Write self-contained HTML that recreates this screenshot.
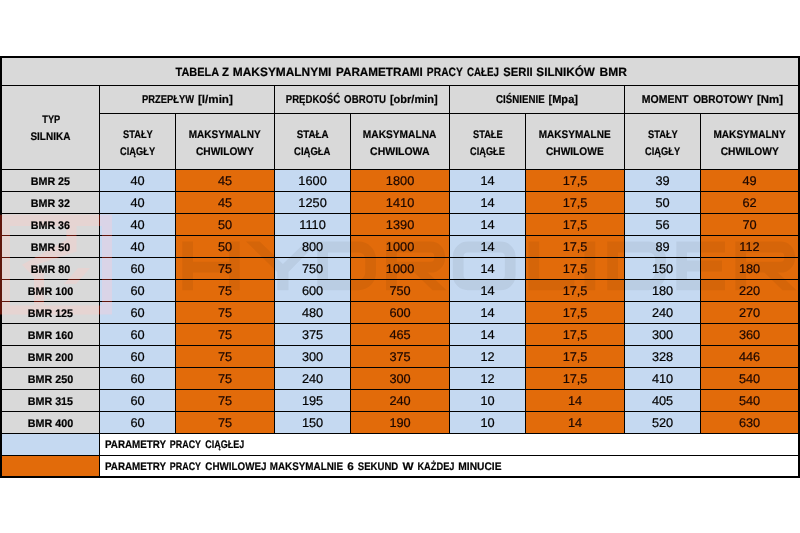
<!DOCTYPE html>
<html><head><meta charset="utf-8"><title>Tabela BMR</title>
<style>html,body{margin:0;padding:0;background:#fff;width:800px;height:533px;overflow:hidden}svg{display:block}</style></head>
<body>
<svg width="800" height="533" viewBox="0 0 800 533" font-family="'Liberation Sans', sans-serif" shape-rendering="crispEdges" text-rendering="geometricPrecision">
<rect x="0" y="0" width="800" height="533" fill="#fff"/>
<rect x="0" y="56" width="800" height="422" fill="#000"/>
<rect x="2" y="58" width="796" height="27" fill="#D9D9D9"/>
<rect x="2" y="86" width="97" height="83" fill="#D9D9D9"/>
<rect x="100" y="86" width="174" height="27" fill="#D9D9D9"/>
<rect x="275" y="86" width="174" height="27" fill="#D9D9D9"/>
<rect x="450" y="86" width="174" height="27" fill="#D9D9D9"/>
<rect x="625" y="86" width="173" height="27" fill="#D9D9D9"/>
<rect x="100" y="114" width="75" height="55" fill="#D9D9D9"/>
<rect x="176" y="114" width="98" height="55" fill="#D9D9D9"/>
<rect x="275" y="114" width="75" height="55" fill="#D9D9D9"/>
<rect x="351" y="114" width="98" height="55" fill="#D9D9D9"/>
<rect x="450" y="114" width="75" height="55" fill="#D9D9D9"/>
<rect x="526" y="114" width="98" height="55" fill="#D9D9D9"/>
<rect x="625" y="114" width="75" height="55" fill="#D9D9D9"/>
<rect x="701" y="114" width="97" height="55" fill="#D9D9D9"/>
<rect x="2" y="170" width="97" height="21" fill="#D9D9D9"/>
<rect x="100" y="170" width="75" height="21" fill="#C5D9F1"/>
<rect x="176" y="170" width="98" height="21" fill="#E26B0A"/>
<rect x="275" y="170" width="75" height="21" fill="#C5D9F1"/>
<rect x="351" y="170" width="98" height="21" fill="#E26B0A"/>
<rect x="450" y="170" width="75" height="21" fill="#C5D9F1"/>
<rect x="526" y="170" width="98" height="21" fill="#E26B0A"/>
<rect x="625" y="170" width="75" height="21" fill="#C5D9F1"/>
<rect x="701" y="170" width="97" height="21" fill="#E26B0A"/>
<rect x="2" y="192" width="97" height="21" fill="#D9D9D9"/>
<rect x="100" y="192" width="75" height="21" fill="#C5D9F1"/>
<rect x="176" y="192" width="98" height="21" fill="#E26B0A"/>
<rect x="275" y="192" width="75" height="21" fill="#C5D9F1"/>
<rect x="351" y="192" width="98" height="21" fill="#E26B0A"/>
<rect x="450" y="192" width="75" height="21" fill="#C5D9F1"/>
<rect x="526" y="192" width="98" height="21" fill="#E26B0A"/>
<rect x="625" y="192" width="75" height="21" fill="#C5D9F1"/>
<rect x="701" y="192" width="97" height="21" fill="#E26B0A"/>
<rect x="2" y="214" width="97" height="21" fill="#D9D9D9"/>
<rect x="100" y="214" width="75" height="21" fill="#C5D9F1"/>
<rect x="176" y="214" width="98" height="21" fill="#E26B0A"/>
<rect x="275" y="214" width="75" height="21" fill="#C5D9F1"/>
<rect x="351" y="214" width="98" height="21" fill="#E26B0A"/>
<rect x="450" y="214" width="75" height="21" fill="#C5D9F1"/>
<rect x="526" y="214" width="98" height="21" fill="#E26B0A"/>
<rect x="625" y="214" width="75" height="21" fill="#C5D9F1"/>
<rect x="701" y="214" width="97" height="21" fill="#E26B0A"/>
<rect x="2" y="236" width="97" height="21" fill="#D9D9D9"/>
<rect x="100" y="236" width="75" height="21" fill="#C5D9F1"/>
<rect x="176" y="236" width="98" height="21" fill="#E26B0A"/>
<rect x="275" y="236" width="75" height="21" fill="#C5D9F1"/>
<rect x="351" y="236" width="98" height="21" fill="#E26B0A"/>
<rect x="450" y="236" width="75" height="21" fill="#C5D9F1"/>
<rect x="526" y="236" width="98" height="21" fill="#E26B0A"/>
<rect x="625" y="236" width="75" height="21" fill="#C5D9F1"/>
<rect x="701" y="236" width="97" height="21" fill="#E26B0A"/>
<rect x="2" y="258" width="97" height="21" fill="#D9D9D9"/>
<rect x="100" y="258" width="75" height="21" fill="#C5D9F1"/>
<rect x="176" y="258" width="98" height="21" fill="#E26B0A"/>
<rect x="275" y="258" width="75" height="21" fill="#C5D9F1"/>
<rect x="351" y="258" width="98" height="21" fill="#E26B0A"/>
<rect x="450" y="258" width="75" height="21" fill="#C5D9F1"/>
<rect x="526" y="258" width="98" height="21" fill="#E26B0A"/>
<rect x="625" y="258" width="75" height="21" fill="#C5D9F1"/>
<rect x="701" y="258" width="97" height="21" fill="#E26B0A"/>
<rect x="2" y="280" width="97" height="21" fill="#D9D9D9"/>
<rect x="100" y="280" width="75" height="21" fill="#C5D9F1"/>
<rect x="176" y="280" width="98" height="21" fill="#E26B0A"/>
<rect x="275" y="280" width="75" height="21" fill="#C5D9F1"/>
<rect x="351" y="280" width="98" height="21" fill="#E26B0A"/>
<rect x="450" y="280" width="75" height="21" fill="#C5D9F1"/>
<rect x="526" y="280" width="98" height="21" fill="#E26B0A"/>
<rect x="625" y="280" width="75" height="21" fill="#C5D9F1"/>
<rect x="701" y="280" width="97" height="21" fill="#E26B0A"/>
<rect x="2" y="302" width="97" height="21" fill="#D9D9D9"/>
<rect x="100" y="302" width="75" height="21" fill="#C5D9F1"/>
<rect x="176" y="302" width="98" height="21" fill="#E26B0A"/>
<rect x="275" y="302" width="75" height="21" fill="#C5D9F1"/>
<rect x="351" y="302" width="98" height="21" fill="#E26B0A"/>
<rect x="450" y="302" width="75" height="21" fill="#C5D9F1"/>
<rect x="526" y="302" width="98" height="21" fill="#E26B0A"/>
<rect x="625" y="302" width="75" height="21" fill="#C5D9F1"/>
<rect x="701" y="302" width="97" height="21" fill="#E26B0A"/>
<rect x="2" y="324" width="97" height="21" fill="#D9D9D9"/>
<rect x="100" y="324" width="75" height="21" fill="#C5D9F1"/>
<rect x="176" y="324" width="98" height="21" fill="#E26B0A"/>
<rect x="275" y="324" width="75" height="21" fill="#C5D9F1"/>
<rect x="351" y="324" width="98" height="21" fill="#E26B0A"/>
<rect x="450" y="324" width="75" height="21" fill="#C5D9F1"/>
<rect x="526" y="324" width="98" height="21" fill="#E26B0A"/>
<rect x="625" y="324" width="75" height="21" fill="#C5D9F1"/>
<rect x="701" y="324" width="97" height="21" fill="#E26B0A"/>
<rect x="2" y="346" width="97" height="21" fill="#D9D9D9"/>
<rect x="100" y="346" width="75" height="21" fill="#C5D9F1"/>
<rect x="176" y="346" width="98" height="21" fill="#E26B0A"/>
<rect x="275" y="346" width="75" height="21" fill="#C5D9F1"/>
<rect x="351" y="346" width="98" height="21" fill="#E26B0A"/>
<rect x="450" y="346" width="75" height="21" fill="#C5D9F1"/>
<rect x="526" y="346" width="98" height="21" fill="#E26B0A"/>
<rect x="625" y="346" width="75" height="21" fill="#C5D9F1"/>
<rect x="701" y="346" width="97" height="21" fill="#E26B0A"/>
<rect x="2" y="368" width="97" height="21" fill="#D9D9D9"/>
<rect x="100" y="368" width="75" height="21" fill="#C5D9F1"/>
<rect x="176" y="368" width="98" height="21" fill="#E26B0A"/>
<rect x="275" y="368" width="75" height="21" fill="#C5D9F1"/>
<rect x="351" y="368" width="98" height="21" fill="#E26B0A"/>
<rect x="450" y="368" width="75" height="21" fill="#C5D9F1"/>
<rect x="526" y="368" width="98" height="21" fill="#E26B0A"/>
<rect x="625" y="368" width="75" height="21" fill="#C5D9F1"/>
<rect x="701" y="368" width="97" height="21" fill="#E26B0A"/>
<rect x="2" y="390" width="97" height="21" fill="#D9D9D9"/>
<rect x="100" y="390" width="75" height="21" fill="#C5D9F1"/>
<rect x="176" y="390" width="98" height="21" fill="#E26B0A"/>
<rect x="275" y="390" width="75" height="21" fill="#C5D9F1"/>
<rect x="351" y="390" width="98" height="21" fill="#E26B0A"/>
<rect x="450" y="390" width="75" height="21" fill="#C5D9F1"/>
<rect x="526" y="390" width="98" height="21" fill="#E26B0A"/>
<rect x="625" y="390" width="75" height="21" fill="#C5D9F1"/>
<rect x="701" y="390" width="97" height="21" fill="#E26B0A"/>
<rect x="2" y="412" width="97" height="21" fill="#D9D9D9"/>
<rect x="100" y="412" width="75" height="21" fill="#C5D9F1"/>
<rect x="176" y="412" width="98" height="21" fill="#E26B0A"/>
<rect x="275" y="412" width="75" height="21" fill="#C5D9F1"/>
<rect x="351" y="412" width="98" height="21" fill="#E26B0A"/>
<rect x="450" y="412" width="75" height="21" fill="#C5D9F1"/>
<rect x="526" y="412" width="98" height="21" fill="#E26B0A"/>
<rect x="625" y="412" width="75" height="21" fill="#C5D9F1"/>
<rect x="701" y="412" width="97" height="21" fill="#E26B0A"/>
<rect x="2" y="434" width="97" height="21" fill="#C5D9F1"/>
<rect x="100" y="434" width="698" height="21" fill="#fff"/>
<rect x="2" y="456" width="97" height="20" fill="#E26B0A"/>
<rect x="100" y="456" width="698" height="20" fill="#fff"/>
<g opacity="0.052" shape-rendering="geometricPrecision">
<path d="M187.65,241.6 V290.2 M234.35,241.6 V290.2 M187.65,267.2 H234.35 M322.65,247.0 H358.6 A12,12 0 0 1 370.6,259.0 V272.8 A12,12 0 0 1 358.6,284.8 H322.65 Z M612.6,247.0 H648.6 A12,12 0 0 1 660.6,259.0 V272.8 A12,12 0 0 1 648.6,284.8 H612.6 Z M391.4,290.2 V247.0 H430.6 A9,9 0 0 1 439.6,256.0 V258.2 A9,9 0 0 1 430.6,267.2 H391.4 M740.6999999999999,290.2 V247.0 H780.6 A9,9 0 0 1 789.6,256.0 V258.2 A9,9 0 0 1 780.6,267.2 H740.6999999999999 M467.7,247.0 H500.7 A9.5,9.5 0 0 1 510.2,256.5 V275.3 A9.5,9.5 0 0 1 500.7,284.8 H467.7 A9.5,9.5 0 0 1 458.2,275.3 V256.5 A9.5,9.5 0 0 1 467.7,247.0 Z M533.8,241.6 V284.8 H574.4 M589.85,241.6 V290.2 M725,247.0 H681.65 V284.8 H725 M681.65,266 H722" fill="none" stroke="#000" stroke-width="10.8" stroke-linejoin="miter"/>
<polygon points="246,241.6 259.75,241.6 282.9,264 306,241.6 318.5,241.6 288.5,272 288.5,290.2 277.25,290.2 277.25,272" fill="#000"/>
<polygon points="413,271.2 426.5,271.2 446.5,290.2 432.5,290.2" fill="#000"/>
<polygon points="763,271.2 776.5,271.2 796.5,290.2 782.5,290.2" fill="#000"/>
</g>
<g opacity="0.042" fill="#e0201a" shape-rendering="geometricPrecision"><path fill-rule="evenodd" d="M0,214.75 H112 V314.5 H0 Z M10,226 V305.5 H102 V226 Z"/><polygon points="66.4,226 76.5,226 76.5,251.5 36,264.8 44,273 44,305.5 34,305.5 34,277 22,264.8 66.4,240"/><polygon points="78,268 90,268 76,284 64,284"/></g>
<g style="mix-blend-mode:screen" fill="#59140a" shape-rendering="geometricPrecision"><path fill-rule="evenodd" d="M0,214.75 H112 V314.5 H0 Z M10,226 V305.5 H102 V226 Z"/><polygon points="66.4,226 76.5,226 76.5,251.5 36,264.8 44,273 44,305.5 34,305.5 34,277 22,264.8 66.4,240"/><polygon points="78,268 90,268 76,284 64,284"/></g>
<g opacity="0.999">
<text transform="translate(175.60,75.60) scale(0.9060,1)" font-size="12.09" font-weight="bold" fill="#000" stroke="#000" stroke-width="0.2">TABELA</text>
<text transform="translate(222.12,75.60) scale(0.9442,1)" font-size="12.09" font-weight="bold" fill="#000" stroke="#000" stroke-width="0.2">Z</text>
<text transform="translate(232.86,75.60) scale(0.9852,1)" font-size="12.09" font-weight="bold" fill="#000" stroke="#000" stroke-width="0.2">MAKSYMALNYMI</text>
<text transform="translate(336.02,75.60) scale(0.9682,1)" font-size="12.09" font-weight="bold" fill="#000" stroke="#000" stroke-width="0.2">PARAMETRAMI</text>
<text transform="translate(426.86,75.60) scale(0.8506,1)" font-size="12.09" font-weight="bold" fill="#000" stroke="#000" stroke-width="0.2">PRACY</text>
<text transform="translate(466.94,75.60) scale(0.8074,1)" font-size="12.09" font-weight="bold" fill="#000" stroke="#000" stroke-width="0.2">CAŁEJ</text>
<text transform="translate(503.32,75.60) scale(0.9291,1)" font-size="12.09" font-weight="bold" fill="#000" stroke="#000" stroke-width="0.2">SERII</text>
<text transform="translate(536.32,75.60) scale(0.9690,1)" font-size="12.09" font-weight="bold" fill="#000" stroke="#000" stroke-width="0.2">SILNIKÓW</text>
<text transform="translate(599.50,75.60) scale(0.9925,1)" font-size="12.09" font-weight="bold" fill="#000" stroke="#000" stroke-width="0.2">BMR</text>
<text transform="translate(141.91,102.90) scale(0.8241,1)" font-size="11.38" font-weight="bold" fill="#000" stroke="#000" stroke-width="0.2">PRZEPŁYW</text>
<text transform="translate(197.95,102.90) scale(1.0224,1)" font-size="11.38" font-weight="bold" fill="#000" stroke="#000" stroke-width="0.2">[l/min]</text>
<text transform="translate(285.80,102.90) scale(0.8432,1)" font-size="11.38" font-weight="bold" fill="#000" stroke="#000" stroke-width="0.2">PRĘDKOŚĆ</text>
<text transform="translate(344.10,102.90) scale(0.8516,1)" font-size="11.38" font-weight="bold" fill="#000" stroke="#000" stroke-width="0.2">OBROTU</text>
<text transform="translate(389.88,102.90) scale(0.9713,1)" font-size="11.38" font-weight="bold" fill="#000" stroke="#000" stroke-width="0.2">[obr/min]</text>
<text transform="translate(496.10,102.90) scale(0.8533,1)" font-size="11.38" font-weight="bold" fill="#000" stroke="#000" stroke-width="0.2">CIŚNIENIE</text>
<text transform="translate(548.48,102.90) scale(0.9721,1)" font-size="11.38" font-weight="bold" fill="#000" stroke="#000" stroke-width="0.2">[Mpa]</text>
<text transform="translate(641.74,102.90) scale(0.9229,1)" font-size="11.38" font-weight="bold" fill="#000" stroke="#000" stroke-width="0.2">MOMENT</text>
<text transform="translate(693.29,102.90) scale(0.8788,1)" font-size="11.38" font-weight="bold" fill="#000" stroke="#000" stroke-width="0.2">OBROTOWY</text>
<text transform="translate(757.06,102.90) scale(1.0043,1)" font-size="11.38" font-weight="bold" fill="#000" stroke="#000" stroke-width="0.2">[Nm]</text>
<text transform="translate(42.25,122.80) scale(0.8447,1)" font-size="10.95" font-weight="bold" fill="#000" stroke="#000" stroke-width="0.2">TYP</text>
<text transform="translate(30.44,139.90) scale(0.9129,1)" font-size="10.95" font-weight="bold" fill="#000" stroke="#000" stroke-width="0.2">SILNIKA</text>
<text transform="translate(122.95,137.90) scale(0.8520,1)" font-size="10.95" font-weight="bold" fill="#000" stroke="#000" stroke-width="0.2">STAŁY</text>
<text transform="translate(120.11,154.90) scale(0.8456,1)" font-size="10.95" font-weight="bold" fill="#000" stroke="#000" stroke-width="0.2">CIĄGŁY</text>
<text transform="translate(188.77,137.90) scale(0.9164,1)" font-size="10.95" font-weight="bold" fill="#000" stroke="#000" stroke-width="0.2">MAKSYMALNY</text>
<text transform="translate(195.93,154.90) scale(0.9335,1)" font-size="10.95" font-weight="bold" fill="#000" stroke="#000" stroke-width="0.2">CHWILOWY</text>
<text transform="translate(296.75,137.90) scale(0.8920,1)" font-size="10.95" font-weight="bold" fill="#000" stroke="#000" stroke-width="0.2">STAŁA</text>
<text transform="translate(294.10,154.90) scale(0.8653,1)" font-size="10.95" font-weight="bold" fill="#000" stroke="#000" stroke-width="0.2">CIĄGŁA</text>
<text transform="translate(362.86,137.90) scale(0.9302,1)" font-size="10.95" font-weight="bold" fill="#000" stroke="#000" stroke-width="0.2">MAKSYMALNA</text>
<text transform="translate(370.07,154.90) scale(0.9593,1)" font-size="10.95" font-weight="bold" fill="#000" stroke="#000" stroke-width="0.2">CHWILOWA</text>
<text transform="translate(472.95,137.90) scale(0.8490,1)" font-size="10.95" font-weight="bold" fill="#000" stroke="#000" stroke-width="0.2">STAŁE</text>
<text transform="translate(470.11,154.90) scale(0.8393,1)" font-size="10.95" font-weight="bold" fill="#000" stroke="#000" stroke-width="0.2">CIĄGŁE</text>
<text transform="translate(538.77,137.90) scale(0.9159,1)" font-size="10.95" font-weight="bold" fill="#000" stroke="#000" stroke-width="0.2">MAKSYMALNE</text>
<text transform="translate(545.93,154.90) scale(0.9320,1)" font-size="10.95" font-weight="bold" fill="#000" stroke="#000" stroke-width="0.2">CHWILOWE</text>
<text transform="translate(647.95,137.90) scale(0.8520,1)" font-size="10.95" font-weight="bold" fill="#000" stroke="#000" stroke-width="0.2">STAŁY</text>
<text transform="translate(645.11,154.90) scale(0.8456,1)" font-size="10.95" font-weight="bold" fill="#000" stroke="#000" stroke-width="0.2">CIĄGŁY</text>
<text transform="translate(713.47,137.90) scale(0.9203,1)" font-size="10.95" font-weight="bold" fill="#000" stroke="#000" stroke-width="0.2">MAKSYMALNY</text>
<text transform="translate(720.68,154.90) scale(0.9376,1)" font-size="10.95" font-weight="bold" fill="#000" stroke="#000" stroke-width="0.2">CHWILOWY</text>
<text transform="translate(30.68,184.80) scale(0.9818,1)" font-size="10.95" font-weight="bold" fill="#000" stroke="#000" stroke-width="0.2">BMR 25</text>
<text transform="translate(130.45,185.00) scale(1.0084,1)" font-size="12.66" font-weight="normal" fill="#000" stroke="#000" stroke-width="0.22">40</text>
<text transform="translate(217.95,185.00) scale(1.0084,1)" font-size="12.66" font-weight="normal" fill="#1c0800" stroke="#1c0800" stroke-width="0.22">45</text>
<text transform="translate(298.35,185.00) scale(1.0084,1)" font-size="12.66" font-weight="normal" fill="#000" stroke="#000" stroke-width="0.22">1600</text>
<text transform="translate(385.85,185.00) scale(1.0084,1)" font-size="12.66" font-weight="normal" fill="#1c0800" stroke="#1c0800" stroke-width="0.22">1800</text>
<text transform="translate(480.45,185.00) scale(1.0084,1)" font-size="12.66" font-weight="normal" fill="#000" stroke="#000" stroke-width="0.22">14</text>
<text transform="translate(562.63,185.00) scale(1.0084,1)" font-size="12.66" font-weight="normal" fill="#1c0800" stroke="#1c0800" stroke-width="0.22">17,5</text>
<text transform="translate(655.45,185.00) scale(1.0084,1)" font-size="12.66" font-weight="normal" fill="#000" stroke="#000" stroke-width="0.22">39</text>
<text transform="translate(742.45,185.00) scale(1.0084,1)" font-size="12.66" font-weight="normal" fill="#1c0800" stroke="#1c0800" stroke-width="0.22">49</text>
<text transform="translate(30.68,206.80) scale(0.9818,1)" font-size="10.95" font-weight="bold" fill="#000" stroke="#000" stroke-width="0.2">BMR 32</text>
<text transform="translate(130.45,207.00) scale(1.0084,1)" font-size="12.66" font-weight="normal" fill="#000" stroke="#000" stroke-width="0.22">40</text>
<text transform="translate(217.95,207.00) scale(1.0084,1)" font-size="12.66" font-weight="normal" fill="#1c0800" stroke="#1c0800" stroke-width="0.22">45</text>
<text transform="translate(298.35,207.00) scale(1.0084,1)" font-size="12.66" font-weight="normal" fill="#000" stroke="#000" stroke-width="0.22">1250</text>
<text transform="translate(385.85,207.00) scale(1.0084,1)" font-size="12.66" font-weight="normal" fill="#1c0800" stroke="#1c0800" stroke-width="0.22">1410</text>
<text transform="translate(480.45,207.00) scale(1.0084,1)" font-size="12.66" font-weight="normal" fill="#000" stroke="#000" stroke-width="0.22">14</text>
<text transform="translate(562.63,207.00) scale(1.0084,1)" font-size="12.66" font-weight="normal" fill="#1c0800" stroke="#1c0800" stroke-width="0.22">17,5</text>
<text transform="translate(655.45,207.00) scale(1.0084,1)" font-size="12.66" font-weight="normal" fill="#000" stroke="#000" stroke-width="0.22">50</text>
<text transform="translate(742.45,207.00) scale(1.0084,1)" font-size="12.66" font-weight="normal" fill="#1c0800" stroke="#1c0800" stroke-width="0.22">62</text>
<text transform="translate(30.68,228.80) scale(0.9818,1)" font-size="10.95" font-weight="bold" fill="#000" stroke="#000" stroke-width="0.2">BMR 36</text>
<text transform="translate(130.45,229.00) scale(1.0084,1)" font-size="12.66" font-weight="normal" fill="#000" stroke="#000" stroke-width="0.22">40</text>
<text transform="translate(217.95,229.00) scale(1.0084,1)" font-size="12.66" font-weight="normal" fill="#1c0800" stroke="#1c0800" stroke-width="0.22">50</text>
<text transform="translate(299.30,229.00) scale(1.0084,1)" font-size="12.66" font-weight="normal" fill="#000" stroke="#000" stroke-width="0.22">1110</text>
<text transform="translate(385.85,229.00) scale(1.0084,1)" font-size="12.66" font-weight="normal" fill="#1c0800" stroke="#1c0800" stroke-width="0.22">1390</text>
<text transform="translate(480.45,229.00) scale(1.0084,1)" font-size="12.66" font-weight="normal" fill="#000" stroke="#000" stroke-width="0.22">14</text>
<text transform="translate(562.63,229.00) scale(1.0084,1)" font-size="12.66" font-weight="normal" fill="#1c0800" stroke="#1c0800" stroke-width="0.22">17,5</text>
<text transform="translate(655.45,229.00) scale(1.0084,1)" font-size="12.66" font-weight="normal" fill="#000" stroke="#000" stroke-width="0.22">56</text>
<text transform="translate(742.45,229.00) scale(1.0084,1)" font-size="12.66" font-weight="normal" fill="#1c0800" stroke="#1c0800" stroke-width="0.22">70</text>
<text transform="translate(30.76,250.80) scale(0.9818,1)" font-size="10.95" font-weight="bold" fill="#000" stroke="#000" stroke-width="0.2">BMR 50</text>
<text transform="translate(130.45,251.00) scale(1.0084,1)" font-size="12.66" font-weight="normal" fill="#000" stroke="#000" stroke-width="0.22">40</text>
<text transform="translate(217.95,251.00) scale(1.0084,1)" font-size="12.66" font-weight="normal" fill="#1c0800" stroke="#1c0800" stroke-width="0.22">50</text>
<text transform="translate(301.90,251.00) scale(1.0084,1)" font-size="12.66" font-weight="normal" fill="#000" stroke="#000" stroke-width="0.22">800</text>
<text transform="translate(385.85,251.00) scale(1.0084,1)" font-size="12.66" font-weight="normal" fill="#1c0800" stroke="#1c0800" stroke-width="0.22">1000</text>
<text transform="translate(480.45,251.00) scale(1.0084,1)" font-size="12.66" font-weight="normal" fill="#000" stroke="#000" stroke-width="0.22">14</text>
<text transform="translate(562.63,251.00) scale(1.0084,1)" font-size="12.66" font-weight="normal" fill="#1c0800" stroke="#1c0800" stroke-width="0.22">17,5</text>
<text transform="translate(655.45,251.00) scale(1.0084,1)" font-size="12.66" font-weight="normal" fill="#000" stroke="#000" stroke-width="0.22">89</text>
<text transform="translate(739.37,251.00) scale(1.0084,1)" font-size="12.66" font-weight="normal" fill="#1c0800" stroke="#1c0800" stroke-width="0.22">112</text>
<text transform="translate(30.76,272.80) scale(0.9818,1)" font-size="10.95" font-weight="bold" fill="#000" stroke="#000" stroke-width="0.2">BMR 80</text>
<text transform="translate(130.45,273.00) scale(1.0084,1)" font-size="12.66" font-weight="normal" fill="#000" stroke="#000" stroke-width="0.22">60</text>
<text transform="translate(217.95,273.00) scale(1.0084,1)" font-size="12.66" font-weight="normal" fill="#1c0800" stroke="#1c0800" stroke-width="0.22">75</text>
<text transform="translate(301.90,273.00) scale(1.0084,1)" font-size="12.66" font-weight="normal" fill="#000" stroke="#000" stroke-width="0.22">750</text>
<text transform="translate(385.85,273.00) scale(1.0084,1)" font-size="12.66" font-weight="normal" fill="#1c0800" stroke="#1c0800" stroke-width="0.22">1000</text>
<text transform="translate(480.45,273.00) scale(1.0084,1)" font-size="12.66" font-weight="normal" fill="#000" stroke="#000" stroke-width="0.22">14</text>
<text transform="translate(562.63,273.00) scale(1.0084,1)" font-size="12.66" font-weight="normal" fill="#1c0800" stroke="#1c0800" stroke-width="0.22">17,5</text>
<text transform="translate(651.90,273.00) scale(1.0084,1)" font-size="12.66" font-weight="normal" fill="#000" stroke="#000" stroke-width="0.22">150</text>
<text transform="translate(738.90,273.00) scale(1.0084,1)" font-size="12.66" font-weight="normal" fill="#1c0800" stroke="#1c0800" stroke-width="0.22">180</text>
<text transform="translate(27.77,294.80) scale(0.9818,1)" font-size="10.95" font-weight="bold" fill="#000" stroke="#000" stroke-width="0.2">BMR 100</text>
<text transform="translate(130.45,295.00) scale(1.0084,1)" font-size="12.66" font-weight="normal" fill="#000" stroke="#000" stroke-width="0.22">60</text>
<text transform="translate(217.95,295.00) scale(1.0084,1)" font-size="12.66" font-weight="normal" fill="#1c0800" stroke="#1c0800" stroke-width="0.22">75</text>
<text transform="translate(301.90,295.00) scale(1.0084,1)" font-size="12.66" font-weight="normal" fill="#000" stroke="#000" stroke-width="0.22">600</text>
<text transform="translate(389.40,295.00) scale(1.0084,1)" font-size="12.66" font-weight="normal" fill="#1c0800" stroke="#1c0800" stroke-width="0.22">750</text>
<text transform="translate(480.45,295.00) scale(1.0084,1)" font-size="12.66" font-weight="normal" fill="#000" stroke="#000" stroke-width="0.22">14</text>
<text transform="translate(562.63,295.00) scale(1.0084,1)" font-size="12.66" font-weight="normal" fill="#1c0800" stroke="#1c0800" stroke-width="0.22">17,5</text>
<text transform="translate(651.90,295.00) scale(1.0084,1)" font-size="12.66" font-weight="normal" fill="#000" stroke="#000" stroke-width="0.22">180</text>
<text transform="translate(738.90,295.00) scale(1.0084,1)" font-size="12.66" font-weight="normal" fill="#1c0800" stroke="#1c0800" stroke-width="0.22">220</text>
<text transform="translate(27.69,316.80) scale(0.9818,1)" font-size="10.95" font-weight="bold" fill="#000" stroke="#000" stroke-width="0.2">BMR 125</text>
<text transform="translate(130.45,317.00) scale(1.0084,1)" font-size="12.66" font-weight="normal" fill="#000" stroke="#000" stroke-width="0.22">60</text>
<text transform="translate(217.95,317.00) scale(1.0084,1)" font-size="12.66" font-weight="normal" fill="#1c0800" stroke="#1c0800" stroke-width="0.22">75</text>
<text transform="translate(301.90,317.00) scale(1.0084,1)" font-size="12.66" font-weight="normal" fill="#000" stroke="#000" stroke-width="0.22">480</text>
<text transform="translate(389.40,317.00) scale(1.0084,1)" font-size="12.66" font-weight="normal" fill="#1c0800" stroke="#1c0800" stroke-width="0.22">600</text>
<text transform="translate(480.45,317.00) scale(1.0084,1)" font-size="12.66" font-weight="normal" fill="#000" stroke="#000" stroke-width="0.22">14</text>
<text transform="translate(562.63,317.00) scale(1.0084,1)" font-size="12.66" font-weight="normal" fill="#1c0800" stroke="#1c0800" stroke-width="0.22">17,5</text>
<text transform="translate(651.90,317.00) scale(1.0084,1)" font-size="12.66" font-weight="normal" fill="#000" stroke="#000" stroke-width="0.22">240</text>
<text transform="translate(738.90,317.00) scale(1.0084,1)" font-size="12.66" font-weight="normal" fill="#1c0800" stroke="#1c0800" stroke-width="0.22">270</text>
<text transform="translate(27.77,338.80) scale(0.9818,1)" font-size="10.95" font-weight="bold" fill="#000" stroke="#000" stroke-width="0.2">BMR 160</text>
<text transform="translate(130.45,339.00) scale(1.0084,1)" font-size="12.66" font-weight="normal" fill="#000" stroke="#000" stroke-width="0.22">60</text>
<text transform="translate(217.95,339.00) scale(1.0084,1)" font-size="12.66" font-weight="normal" fill="#1c0800" stroke="#1c0800" stroke-width="0.22">75</text>
<text transform="translate(301.90,339.00) scale(1.0084,1)" font-size="12.66" font-weight="normal" fill="#000" stroke="#000" stroke-width="0.22">375</text>
<text transform="translate(389.40,339.00) scale(1.0084,1)" font-size="12.66" font-weight="normal" fill="#1c0800" stroke="#1c0800" stroke-width="0.22">465</text>
<text transform="translate(480.45,339.00) scale(1.0084,1)" font-size="12.66" font-weight="normal" fill="#000" stroke="#000" stroke-width="0.22">14</text>
<text transform="translate(562.63,339.00) scale(1.0084,1)" font-size="12.66" font-weight="normal" fill="#1c0800" stroke="#1c0800" stroke-width="0.22">17,5</text>
<text transform="translate(651.90,339.00) scale(1.0084,1)" font-size="12.66" font-weight="normal" fill="#000" stroke="#000" stroke-width="0.22">300</text>
<text transform="translate(738.90,339.00) scale(1.0084,1)" font-size="12.66" font-weight="normal" fill="#1c0800" stroke="#1c0800" stroke-width="0.22">360</text>
<text transform="translate(27.77,360.80) scale(0.9818,1)" font-size="10.95" font-weight="bold" fill="#000" stroke="#000" stroke-width="0.2">BMR 200</text>
<text transform="translate(130.45,361.00) scale(1.0084,1)" font-size="12.66" font-weight="normal" fill="#000" stroke="#000" stroke-width="0.22">60</text>
<text transform="translate(217.95,361.00) scale(1.0084,1)" font-size="12.66" font-weight="normal" fill="#1c0800" stroke="#1c0800" stroke-width="0.22">75</text>
<text transform="translate(301.90,361.00) scale(1.0084,1)" font-size="12.66" font-weight="normal" fill="#000" stroke="#000" stroke-width="0.22">300</text>
<text transform="translate(389.40,361.00) scale(1.0084,1)" font-size="12.66" font-weight="normal" fill="#1c0800" stroke="#1c0800" stroke-width="0.22">375</text>
<text transform="translate(480.45,361.00) scale(1.0084,1)" font-size="12.66" font-weight="normal" fill="#000" stroke="#000" stroke-width="0.22">12</text>
<text transform="translate(562.63,361.00) scale(1.0084,1)" font-size="12.66" font-weight="normal" fill="#1c0800" stroke="#1c0800" stroke-width="0.22">17,5</text>
<text transform="translate(651.90,361.00) scale(1.0084,1)" font-size="12.66" font-weight="normal" fill="#000" stroke="#000" stroke-width="0.22">328</text>
<text transform="translate(738.90,361.00) scale(1.0084,1)" font-size="12.66" font-weight="normal" fill="#1c0800" stroke="#1c0800" stroke-width="0.22">446</text>
<text transform="translate(27.77,382.80) scale(0.9818,1)" font-size="10.95" font-weight="bold" fill="#000" stroke="#000" stroke-width="0.2">BMR 250</text>
<text transform="translate(130.45,383.00) scale(1.0084,1)" font-size="12.66" font-weight="normal" fill="#000" stroke="#000" stroke-width="0.22">60</text>
<text transform="translate(217.95,383.00) scale(1.0084,1)" font-size="12.66" font-weight="normal" fill="#1c0800" stroke="#1c0800" stroke-width="0.22">75</text>
<text transform="translate(301.90,383.00) scale(1.0084,1)" font-size="12.66" font-weight="normal" fill="#000" stroke="#000" stroke-width="0.22">240</text>
<text transform="translate(389.40,383.00) scale(1.0084,1)" font-size="12.66" font-weight="normal" fill="#1c0800" stroke="#1c0800" stroke-width="0.22">300</text>
<text transform="translate(480.45,383.00) scale(1.0084,1)" font-size="12.66" font-weight="normal" fill="#000" stroke="#000" stroke-width="0.22">12</text>
<text transform="translate(562.63,383.00) scale(1.0084,1)" font-size="12.66" font-weight="normal" fill="#1c0800" stroke="#1c0800" stroke-width="0.22">17,5</text>
<text transform="translate(651.90,383.00) scale(1.0084,1)" font-size="12.66" font-weight="normal" fill="#000" stroke="#000" stroke-width="0.22">410</text>
<text transform="translate(738.90,383.00) scale(1.0084,1)" font-size="12.66" font-weight="normal" fill="#1c0800" stroke="#1c0800" stroke-width="0.22">540</text>
<text transform="translate(27.69,404.80) scale(0.9818,1)" font-size="10.95" font-weight="bold" fill="#000" stroke="#000" stroke-width="0.2">BMR 315</text>
<text transform="translate(130.45,405.00) scale(1.0084,1)" font-size="12.66" font-weight="normal" fill="#000" stroke="#000" stroke-width="0.22">60</text>
<text transform="translate(217.95,405.00) scale(1.0084,1)" font-size="12.66" font-weight="normal" fill="#1c0800" stroke="#1c0800" stroke-width="0.22">75</text>
<text transform="translate(301.90,405.00) scale(1.0084,1)" font-size="12.66" font-weight="normal" fill="#000" stroke="#000" stroke-width="0.22">195</text>
<text transform="translate(389.40,405.00) scale(1.0084,1)" font-size="12.66" font-weight="normal" fill="#1c0800" stroke="#1c0800" stroke-width="0.22">240</text>
<text transform="translate(480.45,405.00) scale(1.0084,1)" font-size="12.66" font-weight="normal" fill="#000" stroke="#000" stroke-width="0.22">10</text>
<text transform="translate(567.95,405.00) scale(1.0084,1)" font-size="12.66" font-weight="normal" fill="#1c0800" stroke="#1c0800" stroke-width="0.22">14</text>
<text transform="translate(651.90,405.00) scale(1.0084,1)" font-size="12.66" font-weight="normal" fill="#000" stroke="#000" stroke-width="0.22">405</text>
<text transform="translate(738.90,405.00) scale(1.0084,1)" font-size="12.66" font-weight="normal" fill="#1c0800" stroke="#1c0800" stroke-width="0.22">540</text>
<text transform="translate(27.77,426.80) scale(0.9818,1)" font-size="10.95" font-weight="bold" fill="#000" stroke="#000" stroke-width="0.2">BMR 400</text>
<text transform="translate(130.45,427.00) scale(1.0084,1)" font-size="12.66" font-weight="normal" fill="#000" stroke="#000" stroke-width="0.22">60</text>
<text transform="translate(217.95,427.00) scale(1.0084,1)" font-size="12.66" font-weight="normal" fill="#1c0800" stroke="#1c0800" stroke-width="0.22">75</text>
<text transform="translate(301.90,427.00) scale(1.0084,1)" font-size="12.66" font-weight="normal" fill="#000" stroke="#000" stroke-width="0.22">150</text>
<text transform="translate(389.40,427.00) scale(1.0084,1)" font-size="12.66" font-weight="normal" fill="#1c0800" stroke="#1c0800" stroke-width="0.22">190</text>
<text transform="translate(480.45,427.00) scale(1.0084,1)" font-size="12.66" font-weight="normal" fill="#000" stroke="#000" stroke-width="0.22">10</text>
<text transform="translate(567.95,427.00) scale(1.0084,1)" font-size="12.66" font-weight="normal" fill="#1c0800" stroke="#1c0800" stroke-width="0.22">14</text>
<text transform="translate(651.90,427.00) scale(1.0084,1)" font-size="12.66" font-weight="normal" fill="#000" stroke="#000" stroke-width="0.22">520</text>
<text transform="translate(738.90,427.00) scale(1.0084,1)" font-size="12.66" font-weight="normal" fill="#1c0800" stroke="#1c0800" stroke-width="0.22">630</text>
<text transform="translate(104.99,447.60) scale(0.8983,1)" font-size="10.95" font-weight="bold" fill="#000" stroke="#000" stroke-width="0.2">PARAMETRY</text>
<text transform="translate(169.84,447.60) scale(0.8152,1)" font-size="10.95" font-weight="bold" fill="#000" stroke="#000" stroke-width="0.2">PRACY</text>
<text transform="translate(205.32,447.60) scale(0.8191,1)" font-size="10.95" font-weight="bold" fill="#000" stroke="#000" stroke-width="0.2">CIĄGŁEJ</text>
<text transform="translate(104.99,469.50) scale(0.8983,1)" font-size="10.95" font-weight="bold" fill="#000" stroke="#000" stroke-width="0.2">PARAMETRY</text>
<text transform="translate(169.84,469.50) scale(0.8152,1)" font-size="10.95" font-weight="bold" fill="#000" stroke="#000" stroke-width="0.2">PRACY</text>
<text transform="translate(205.29,469.50) scale(0.8990,1)" font-size="10.95" font-weight="bold" fill="#000" stroke="#000" stroke-width="0.2">CHWILOWEJ</text>
<text transform="translate(269.78,469.50) scale(0.9011,1)" font-size="10.95" font-weight="bold" fill="#000" stroke="#000" stroke-width="0.2">MAKSYMALNIE</text>
<text transform="translate(347.23,469.50) scale(1.0773,1)" font-size="10.95" font-weight="bold" fill="#000" stroke="#000" stroke-width="0.2">6</text>
<text transform="translate(357.85,469.50) scale(0.8753,1)" font-size="10.95" font-weight="bold" fill="#000" stroke="#000" stroke-width="0.2">SEKUND</text>
<text transform="translate(402.40,469.50) scale(1.0728,1)" font-size="10.95" font-weight="bold" fill="#000" stroke="#000" stroke-width="0.2">W</text>
<text transform="translate(417.42,469.50) scale(0.8467,1)" font-size="10.95" font-weight="bold" fill="#000" stroke="#000" stroke-width="0.2">KAŻDEJ</text>
<text transform="translate(458.36,469.50) scale(0.9343,1)" font-size="10.95" font-weight="bold" fill="#000" stroke="#000" stroke-width="0.2">MINUCIE</text>
</g>
</svg>
</body></html>
